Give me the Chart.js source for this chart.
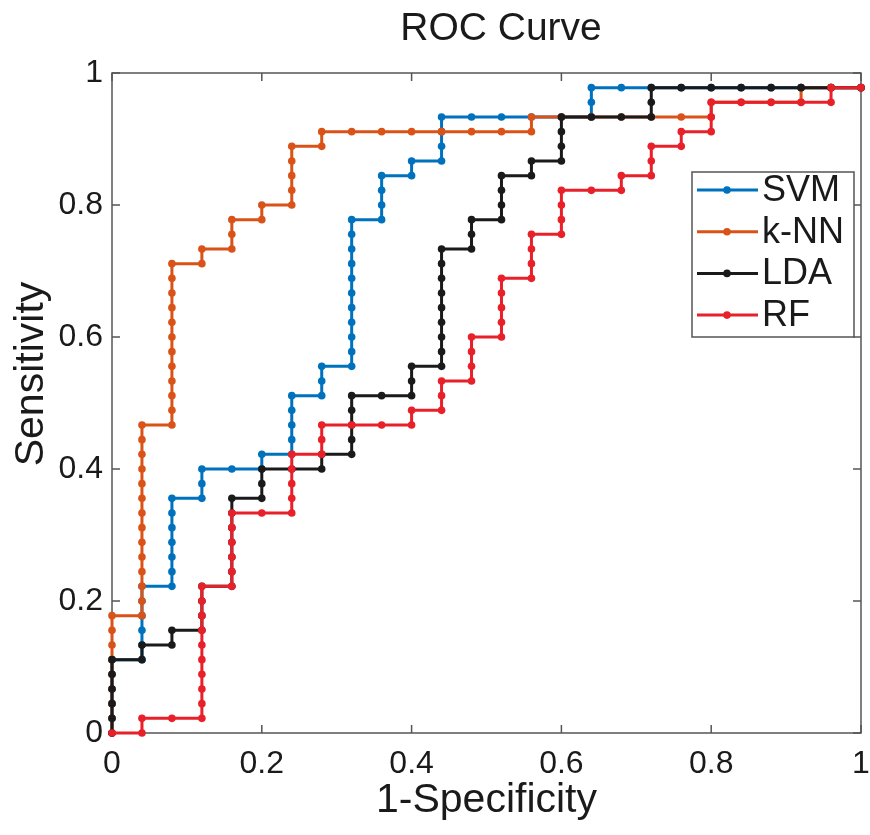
<!DOCTYPE html>
<html>
<head>
<meta charset="utf-8">
<script src="https://cdn.jsdelivr.net/npm/chart.js@4.4.1/dist/chart.umd.min.js"></script>
<style>
  html, body { margin: 0; padding: 0; background: #fff; }
  #wrap { width: 870px; height: 835px; }
</style>
</head>
<body>
<div id="wrap"><canvas id="roc" width="870" height="835"></canvas></div>
<script>
// counts: false positives out of NEG, true positives out of POS
var NEG = 25;
var POS = 45;

var labels = ["SVM", "k-NN", "LDA", "RF"];
var colors = ["#0072BD", "#D95319", "#1A1A1A", "#E8202A"];
var tickVals = [0, 0.2, 0.4, 0.6, 0.8, 1];
var tickText = ["0", "0.2", "0.4", "0.6", "0.8", "1"];

var svmFP = [0,0,0,0,0,0, 1,1,1,1,1,1, 2,2,2,2,2,2,2, 3,3,3, 4, 5,5, 6,6,6,6,6, 7,7,7,
  8,8,8,8,8,8,8,8,8,8,8, 9,9,9,9, 10,10, 11,11,11,11, 12,13,14,15, 16,16,16,
  17,18,19,20,21,22,23,24,25];
var svmTP = [0,1,2,3,4,5, 5,6,7,8,9,10, 10,11,12,13,14,15,16, 16,17,18, 18, 18,19, 19,20,21,22,23, 23,24,25,
  25,26,27,28,29,30,31,32,33,34,35, 35,36,37,38, 38,39, 39,40,41,42, 42,42,42,42, 42,43,44,
  44,44,44,44,44,44,44,44,44];

var knnFP = [0,0,0,0,0,0,0,0,0,
  1,1,1,1,1,1,1,1,1,1,1,1,1,1,
  2,2,2,2,2,2,2,2,2,2,2,2,
  3,3, 4,4,4, 5,5, 6,6,6,6,6, 7,7,
  8,9,10,11,12,13, 14,14, 15,16,17,18,19, 20,20, 21,22, 23,23, 24,25];
var knnTP = [0,1,2,3,4,5,6,7,8,
  8,9,10,11,12,13,14,15,16,17,18,19,20,21,
  21,22,23,24,25,26,27,28,29,30,31,32,
  32,33, 33,34,35, 35,36, 36,37,38,39,40, 40,41,
  41,41,41,41,41,41, 41,42, 42,42,42,42,42, 42,43, 43,43, 43,44, 44,44];

var ldaFP = [0,0,0,0,0,0, 1,1, 2,2, 3,3,3,3, 4,4,4,4,4,4,4, 5,5,5, 6, 7,7, 8,8,8,8,8, 9,
  10,10,10, 11,11,11,11,11,11,11,11,11, 12,12,12, 13,13,13,13, 14,14, 15,15,15,15,
  16,17, 18,18,18, 19,20,21,22,23,24,25];
var ldaTP = [0,1,2,3,4,5, 5,6, 6,7, 7,8,9,10, 10,11,12,13,14,15,16, 16,17,18, 18, 18,19, 19,20,21,22,23, 23,
  23,24,25, 25,26,27,28,29,30,31,32,33, 33,34,35, 35,36,37,38, 38,39, 39,40,41,42,
  42,42, 42,43,44, 44,44,44,44,44,44,44];

var rfFP = [0, 1,1, 2, 3,3,3,3,3,3,3,3,3,3, 4,4,4,4,4,4, 5, 6,6,6,6,6, 7,7,7, 8,9, 10,10,
  11,11,11, 12,12,12,12, 13,13,13,13,13, 14,14,14,14, 15,15,15,15, 16, 17,17,
  18,18,18, 19,19, 20,20,20, 21,22,23, 24,24, 25];
var rfTP = [0, 0,1, 1, 1,2,3,4,5,6,7,8,9,10, 10,11,12,13,14,15, 15, 15,16,17,18,19, 19,20,21, 21,21, 21,22,
  22,23,24, 24,25,26,27, 27,28,29,30,31, 31,32,33,34, 34,35,36,37, 37, 37,38,
  38,39,40, 40,41, 41,42,43, 43,43,43, 43,44, 44];

var FONT = "'Liberation Sans', Arial, Helvetica, sans-serif";
var INK = '#1a1a1a';

function toPoints(fp, tp) {
  return fp.map(function (f, k) { return { x: f / NEG, y: tp[k] / POS }; });
}

var series = [[svmFP, svmTP], [knnFP, knnTP], [ldaFP, ldaTP], [rfFP, rfTP]];
var datasets = series.map(function (s, k) {
  return {
    label: labels[k],
    data: toPoints(s[0], s[1]),
    showLine: true,
    borderColor: colors[k],
    backgroundColor: colors[k],
    borderWidth: 3,
    pointRadius: 3.8,
    pointBorderWidth: 0,
    pointBackgroundColor: colors[k],
    clip: false,
    order: 3 - k   // later series drawn on top, like matlab
  };
});

function tickLabel(v) {
  var k = tickVals.indexOf(Math.round(v * 10) / 10);
  return k < 0 ? '' : tickText[k];
}

// box round the axes with inward ticks on all four sides
var axesBox = {
  id: 'axesBox',
  beforeDatasetsDraw: function (chart) {
    var ctx = chart.ctx, a = chart.chartArea;
    var xs = chart.scales.x, ys = chart.scales.y;
    var tl = 8;
    ctx.save();
    ctx.strokeStyle = '#555';
    ctx.lineWidth = 1.5;
    ctx.strokeRect(a.left, a.top, a.right - a.left, a.bottom - a.top);
    ctx.beginPath();
    tickVals.forEach(function (v) {
      var px = xs.getPixelForValue(v);
      ctx.moveTo(px, a.bottom); ctx.lineTo(px, a.bottom - tl);
      ctx.moveTo(px, a.top); ctx.lineTo(px, a.top + tl);
      var py = ys.getPixelForValue(v);
      ctx.moveTo(a.left, py); ctx.lineTo(a.left + tl, py);
      ctx.moveTo(a.right, py); ctx.lineTo(a.right - tl, py);
    });
    ctx.stroke();
    ctx.restore();
  },
  afterDraw: function (chart) {
    // title and y label sit a little off-centre in the original figure
    var ctx = chart.ctx;
    ctx.save();
    ctx.fillStyle = INK;
    ctx.textAlign = 'center';
    ctx.textBaseline = 'middle';
    ctx.font = '39px ' + FONT;
    ctx.fillText('ROC Curve', 501, 29);
    ctx.translate(32, 374);
    ctx.rotate(-Math.PI / 2);
    ctx.font = '41px ' + FONT;
    ctx.fillText('Sensitivity', 0, 0);
    ctx.restore();
  }
};

// matlab-like legend box inside the plot, top right
var boxLegend = {
  id: 'boxLegend',
  afterDatasetsDraw: function (chart) {
    var ctx = chart.ctx, a = chart.chartArea;
    var right = a.right - 7, left = right - 162, top = 172, rowH = 41.7, firstY = 190;
    var bottom = top + 165;
    ctx.save();
    ctx.fillStyle = '#fff';
    ctx.fillRect(left, top, right - left, bottom - top);
    ctx.strokeStyle = '#555';
    ctx.lineWidth = 1.5;
    ctx.strokeRect(left, top, right - left, bottom - top);
    ctx.font = '36px ' + FONT;
    ctx.textBaseline = 'middle';
    ctx.textAlign = 'left';
    chart.data.datasets.forEach(function (ds, k) {
      var y = firstY + k * rowH;
      ctx.strokeStyle = ds.borderColor;
      ctx.lineWidth = 3;
      ctx.beginPath();
      ctx.moveTo(left + 5, y); ctx.lineTo(left + 66, y);
      ctx.stroke();
      ctx.fillStyle = ds.borderColor;
      ctx.beginPath();
      ctx.arc(left + 35, y, 3.8, 0, Math.PI * 2);
      ctx.fill();
      ctx.fillStyle = INK;
      ctx.fillText(ds.label, left + 70, y + 1);
    });
    ctx.restore();
  }
};

var ctx = document.getElementById('roc');

var rocChart = new Chart(ctx, {
  type: 'scatter',
  data: { datasets: datasets },
  options: {
    responsive: false,
    animation: false,
    events: [],
    layout: { padding: { left: 0, right: 9, top: 73, bottom: 0 } },
    plugins: {
      legend: { display: false },
      tooltip: { enabled: false },
      title: { display: false }
    },
    scales: {
      x: {
        type: 'linear',
        min: 0, max: 1,
        afterBuildTicks: function (s) { s.ticks = tickVals.map(function (v) { return { value: v }; }); },
        afterFit: function (s) { s.height = 102; s.paddingLeft = 0; s.paddingRight = 0; },
        grid: { display: false, drawTicks: false },
        border: { display: false },
        ticks: {
          color: INK, padding: 12, maxRotation: 0, font: { family: FONT, size: 32 },
          callback: tickLabel
        },
        title: {
          display: true, text: '1-Specificity', color: INK,
          font: { family: FONT, size: 41 }, padding: { top: 0, bottom: 10 }
        }
      },
      y: {
        type: 'linear',
        min: 0, max: 1,
        afterBuildTicks: function (s) { s.ticks = tickVals.map(function (v) { return { value: v }; }); },
        afterFit: function (s) { s.width = 112; },
        grid: { display: false, drawTicks: false },
        border: { display: false },
        ticks: {
          color: INK, padding: 9, font: { family: FONT, size: 32 },
          callback: tickLabel
        }
      }
    }
  },
  plugins: [axesBox, boxLegend]
});
</script>
</body>
</html>
